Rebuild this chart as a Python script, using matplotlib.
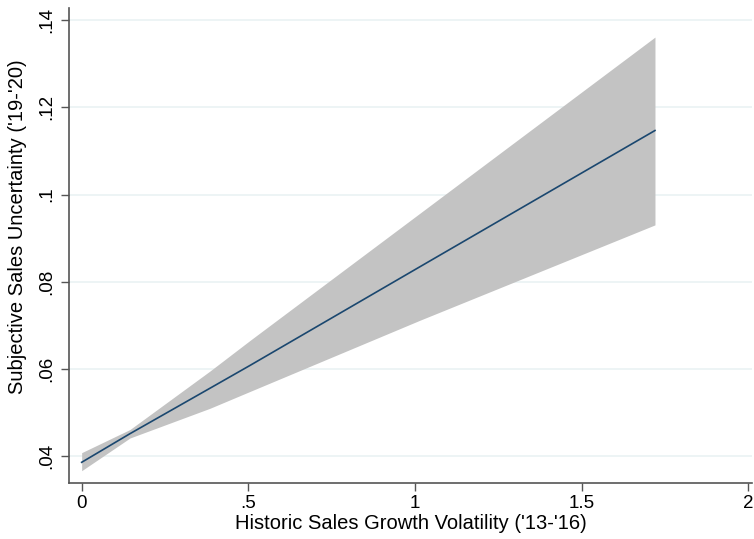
import matplotlib
matplotlib.use('Agg')
import matplotlib.pyplot as plt

# values
x_vals = [0.0, 0.145, 0.385, 0.505, 1.015, 1.72]
fit = [0.03855, 0.04512, 0.05555, 0.06078, 0.08344, 0.1147]
ci_upper = [0.04076, 0.04608, 0.05950, 0.06652, 0.09573, 0.13614]
ci_lower = [0.03662, 0.04413, 0.05095, 0.05481, 0.07116, 0.09304]

x_ticks = [0, 0.5, 1, 1.5, 2]
x_ticklabels = ['0', '.5', '1', '1.5', '2']
y_ticks = [0.04, 0.06, 0.08, 0.10, 0.12, 0.14]
y_ticklabels = ['.04', '.06', '.08', '.1', '.12', '.14']

plt.rcParams['font.family'] = ['Liberation Sans', 'DejaVu Sans']

fig = plt.figure(figsize=(7.54, 5.39), dpi=100)
ax = fig.add_axes([0.0915, 0.1039, 0.9058, 0.8811])

ax.fill_between(x_vals, ci_lower, ci_upper, color='#c3c3c3', lw=0, zorder=2)
ax.plot(x_vals, fit, color='#1a476f', lw=1.2, zorder=3)

ax.set_xlim(-0.038, 2.011)
ax.set_ylim(0.0338, 0.1428)

ax.set_xticks(x_ticks)
ax.set_xticklabels(x_ticklabels)
ax.set_yticks(y_ticks)
ax.set_yticklabels(y_ticklabels, rotation=90, va='center')

ax.grid(axis='y', color='#eaf2f3', lw=1.2, zorder=1)
ax.set_axisbelow(True)

for side in ['top', 'right']:
    ax.spines[side].set_visible(False)
for side in ['left', 'bottom']:
    ax.spines[side].set_color('#555555')
    ax.spines[side].set_linewidth(1.2)

ax.tick_params(axis='both', colors='#555555', length=6, width=1.0,
               labelsize=13.5, labelcolor='black')
ax.tick_params(axis='x', pad=3)
ax.tick_params(axis='y', pad=4)

ax.set_xlabel("Historic Sales Growth Volatility ('13-'16)", fontsize=14.5, labelpad=1)
ax.set_ylabel("Subjective Sales Uncertainty ('19-'20)", fontsize=14.5, va='center')
ax.yaxis.set_label_coords(-0.076, 0.54)

fig.savefig('out.png', dpi=100)
